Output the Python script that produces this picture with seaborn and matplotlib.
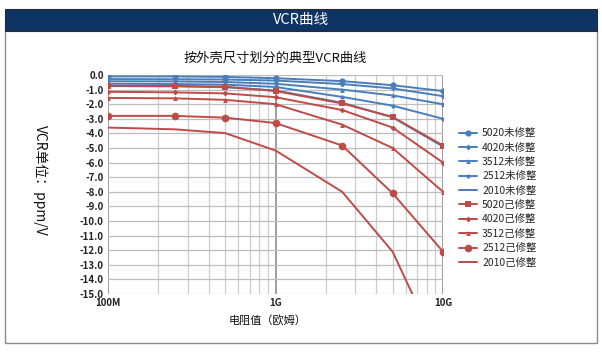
import numpy as np
import pandas as pd
import matplotlib
matplotlib.use("Agg")
import matplotlib.pyplot as plt
from matplotlib.patches import Rectangle
from matplotlib.ticker import FixedLocator, LogLocator, NullFormatter
import seaborn as sns

sns.set_theme(style="white")
plt.rcParams['font.family'] = ['Noto Sans CJK SC', 'DejaVu Sans']
plt.rcParams['axes.unicode_minus'] = False

# ---- data ----
resistance = [1e8, 2.5e8, 5e8, 1e9, 2.5e9, 5e9, 1e10]
series_names = ["5020未修整", "4020未修整", "3512未修整", "2512未修整", "2010未修整",
                "5020己修整", "4020己修整", "3512己修整", "2512己修整", "2010己修整"]
v5020_raw = [-0.10, -0.10, -0.13, -0.22, -0.42, -0.70, -1.10]
v4020_raw = [-0.28, -0.29, -0.31, -0.38, -0.62, -0.92, -1.45]
v3512_raw = [-0.43, -0.44, -0.48, -0.60, -1.00, -1.40, -2.00]
v2512_raw = [-0.60, -0.62, -0.66, -0.82, -1.50, -2.10, -3.00]
v2010_raw = [-0.76, -0.78, -0.84, -1.06, -1.90, -2.90, -4.90]
v5020_trim = [-0.74, -0.75, -0.80, -1.10, -1.95, -2.87, -4.83]
v4020_trim = [-1.15, -1.19, -1.26, -1.52, -2.40, -3.60, -6.00]
v3512_trim = [-1.57, -1.60, -1.70, -2.00, -3.40, -5.00, -8.00]
v2512_trim = [-2.80, -2.80, -2.92, -3.29, -4.83, -8.10, -12.10]
v2010_trim = [-3.60, -3.72, -3.98, -5.17, -8.00, -12.10, -19.50]
x_tick_values = [1e8, 1e9, 1e10]
x_tick_labels = ["100M", "1G", "10G"]
y_ticks = list(range(0, -16, -1))

values = [v5020_raw, v4020_raw, v3512_raw, v2512_raw, v2010_raw,
          v5020_trim, v4020_trim, v3512_trim, v2512_trim, v2010_trim]

blue = "#4a7ebb"
red = "#be4b48"
colors = [blue] * 5 + [red] * 5
markers = ["o", "D", "^", "o", None, "s", "D", "^", "o", None]
msizes = [4.5, 3, 3.5, 3, 0, 4.5, 3, 3.5, 5.5, 0]

W, H = 602, 354
fig = plt.figure(figsize=(W / 100, H / 100), dpi=100)
fig.patch.set_facecolor("white")

# frame and banner
fig.patches.append(Rectangle((5 / W, 1 - 343 / H), 592 / W, 313 / H, transform=fig.transFigure,
                             facecolor="none", edgecolor="#8c8c8c", lw=1.0, zorder=-5))
fig.patches.append(Rectangle((5 / W, 1 - 31 / H), 592 / W, 22 / H, transform=fig.transFigure,
                             facecolor="#0e3464", edgecolor="#2a2a2a", lw=0.8, zorder=-4))
fig.text(301 / W, 1 - 20 / H, "VCR曲线", color="white", fontsize=10.5, ha="center", va="center")

ax = fig.add_axes([108 / W, 1 - 294 / H, (443 - 108) / W, (294 - 75) / H])
ax.set_facecolor("none")
ax.set_zorder(2)

for name, vals, c, m, ms in zip(series_names, values, colors, markers, msizes):
    df = pd.DataFrame({"r": resistance, "v": vals})
    sns.lineplot(data=df, x="r", y="v", ax=ax, color=c, lw=1.4,
                 marker=m if m else "", markersize=ms, markeredgewidth=0,
                 label=name, zorder=3)

ax.set_xscale("log")
ax.set_xlim(1e8, 1e10)
ax.set_ylim(-15, 0)
ax.xaxis.set_major_locator(FixedLocator(x_tick_values))
ax.set_xticklabels(x_tick_labels)
ax.xaxis.set_minor_locator(LogLocator(base=10, subs=np.arange(2, 10)))
ax.xaxis.set_minor_formatter(NullFormatter())
ax.set_yticks(y_ticks)
ax.set_yticklabels([f"{v:.1f}" for v in y_ticks])
ax.tick_params(axis="both", which="both", labelsize=7, length=0, pad=3)
for lab in ax.get_xticklabels() + ax.get_yticklabels():
    lab.set_fontweight("bold")
    lab.set_color("#222222")

ax.set_axisbelow(True)
ax.grid(True, axis="y", color="#bdbdbd", lw=0.9)
ax.grid(True, axis="x", which="major", color="#969696", lw=1.3)
ax.grid(True, axis="x", which="minor", color="#cccccc", lw=0.9)
for s in ax.spines.values():
    s.set_visible(False)
ax.set_xlabel("")
ax.set_ylabel("")
if ax.get_legend() is not None:
    ax.get_legend().remove()

fig.text(275 / W, 1 - 58 / H, "按外壳尺寸划分的典型VCR曲线", fontsize=9.5, ha="center", va="center", color="#111111")
fig.text(40 / W, 1 - 180 / H, "VCR单位：ppm/V", fontsize=10, rotation=270, ha="center", va="center", color="#111111")
fig.text(268 / W, 1 - 320 / H, "电阻值（欧姆）", fontsize=8, ha="center", va="center", color="#111111")

handles, labels = ax.get_legend_handles_labels()
leg = fig.legend(handles, labels, loc="upper left", bbox_to_anchor=(455 / W, 1 - 124 / H),
                 frameon=False, fontsize=7.5, handlelength=1.7, labelspacing=0.42,
                 handletextpad=0.5, borderaxespad=0)

fig.savefig("out.png", dpi=100, facecolor="white")
